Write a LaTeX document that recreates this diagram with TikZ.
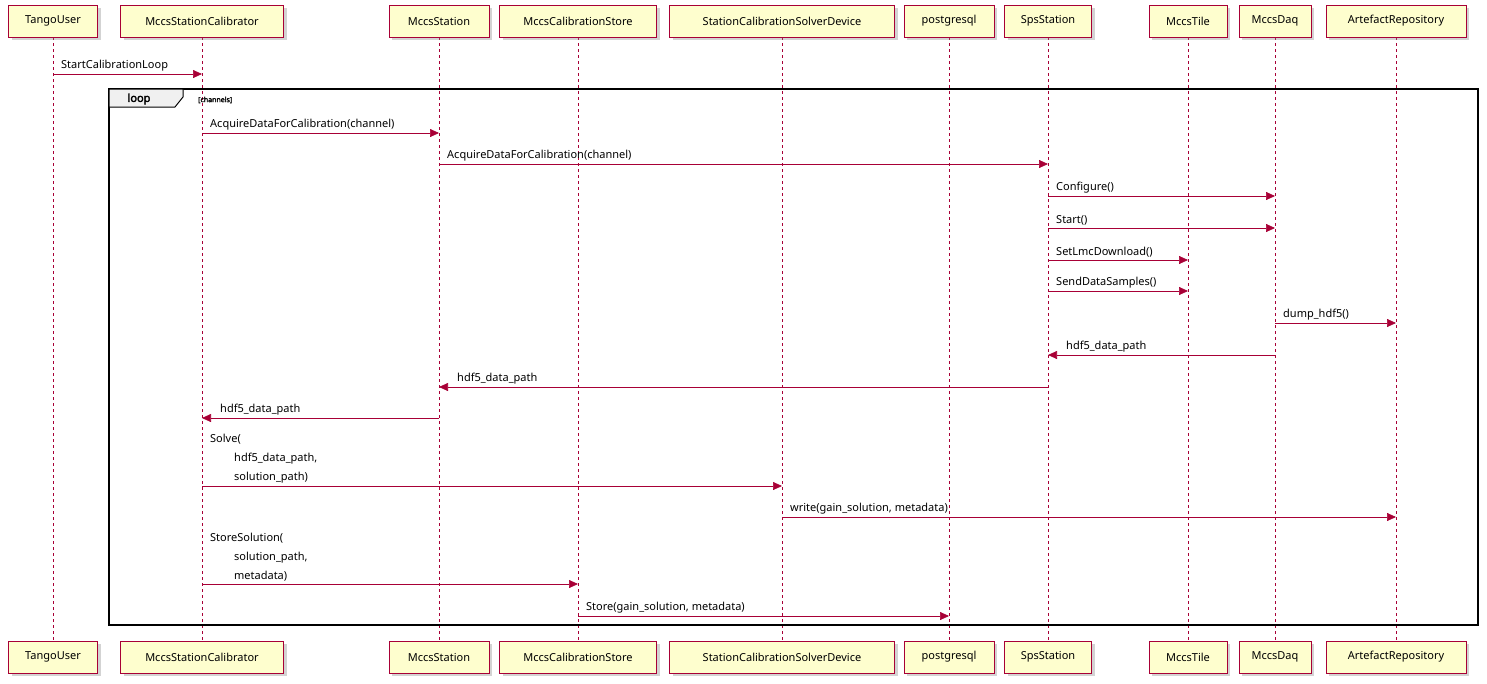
\documentclass[tikz,border=0pt]{standalone}
\usepackage{fontspec}
\setmainfont{Noto Sans}
\newfontfamily\heavyfont{Noto Sans}[FakeBold=2.5]
\usetikzlibrary{positioning,shadows,arrows.meta}
\definecolor{umlred}{HTML}{A80036}
\definecolor{umlfill}{HTML}{FEFECE}
\begin{document}
\begin{tikzpicture}
[
x=1pt, y=-1pt,
font=\fontsize{11}{15}\selectfont,
part-a/.style={draw=umlred, fill=umlfill, minimum height=32pt, inner xsep=4pt, drop shadow={shadow xshift=3pt, shadow yshift=-3pt, opacity=0.35}},
life-a/.style={umlred, dashed, line width=0.5pt},
msg-a/.style={umlred, line width=0.7pt, -{Triangle[length=9pt, width=8pt]}},
text-a/.style={black, anchor=south west, inner sep=1pt, align=left},
]
\useasboundingbox (0,0) rectangle (1487,683);
% participants, top and bottom
\foreach \n/\x/\w/\t in {tu/53/89/TangoUser, sc/202/163/MccsStationCalibrator, st/439/100/MccsStation,
  cs/578/157/MccsCalibrationStore, sv/782/225/StationCalibrationSolverDevice, pg/949/90/postgresql,
  sp/1048/87/SpsStation, ti/1188/78/MccsTile, dq/1275/72/MccsDaq, ar/1396/140/ArtefactRepository}
{
  \draw [life-a] (\x,37) -- (\x,641);
  \node (\n-top) [part-a, minimum width=\w pt] at (\x,21) {\t};
  \node (\n-bot) [part-a, minimum width=\w pt] at (\x,657) {\t};
}
% loop frame
\draw [line width=1.5pt] (109,89) rectangle (1478,625);
\draw [line width=1pt, fill=black!6] (109,89) -- (183,89) -- (183,97) -- (175,107) -- (109,107) -- cycle;
\node (lp) [font=\fontsize{11}{12}\heavyfont] at (139,99) {loop};
\node (lc) [font=\fontsize{7}{8}\heavyfont, anchor=west, inner sep=0pt] at (198,100) {[channels]};
% messages left to right
\foreach \a/\b/\y/\t in {tu/sc/74/StartCalibrationLoop, sc/st/133/AcquireDataForCalibration(channel),
  st/sp/164/AcquireDataForCalibration(channel), sp/dq/196/Configure(), sp/dq/228/Start(),
  sp/ti/260/SetLmcDownload(), sp/ti/291/SendDataSamples(), dq/ar/323/dump\_hdf5(),
  sv/ar/517/{write(gain\_solution, metadata)}, cs/pg/616/{Store(gain\_solution, metadata)}}
{
  \draw [msg-a] (\a-top |- 0,\y) -- (\b-top |- 0,\y);
  \node [text-a] at ([xshift=7pt]\a-top |- 0,{\y-2}) {\t};
}
% messages right to left
\foreach \a/\b/\y in {dq/sp/355, sp/st/387, st/sc/418}
{
  \draw [msg-a] (\a-top |- 0,\y) -- (\b-top |- 0,\y);
  \node [text-a] at ([xshift=17pt]\b-top |- 0,{\y-2}) {hdf5\_data\_path};
}
% multi-line messages
\draw [msg-a] (sc-top |- 0,486) -- (sv-top |- 0,486);
\node [text-a, font=\fontsize{11}{19}\selectfont] at ([xshift=7pt]sc-top |- 0,484) {Solve(\\\hspace{24pt}hdf5\_data\_path,\\\hspace{24pt}solution\_path)};
\draw [msg-a] (sc-top |- 0,584) -- (cs-top |- 0,584);
\node [text-a, font=\fontsize{11}{19}\selectfont] at ([xshift=7pt]sc-top |- 0,582) {StoreSolution(\\\hspace{24pt}solution\_path,\\\hspace{24pt}metadata)};
\end{tikzpicture}
\end{document}
